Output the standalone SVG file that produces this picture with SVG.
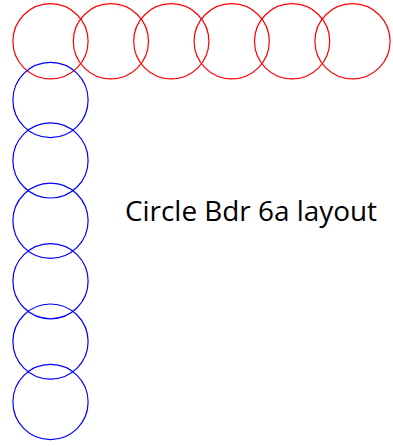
<svg xmlns="http://www.w3.org/2000/svg" width="393" height="447" viewBox="0 0 393 447">
<style>
.r{fill:none;stroke:#ff0000;stroke-width:1.2}
.b{fill:none;stroke:#0000ff;stroke-width:1.2}
.t{font-family:"Open Sans","Liberation Sans",Arial,sans-serif;font-size:28px;fill:#000}
</style>
<rect width="393" height="447" fill="#fff"/>
<g id="red">
<g id="r1"><circle class="r" cx="50.5" cy="41.3" r="37.6"/></g>
<g id="r2"><circle class="r" cx="110.9" cy="41.3" r="37.6"/></g>
<g id="r3"><circle class="r" cx="171.3" cy="41.3" r="37.6"/></g>
<g id="r4"><circle class="r" cx="231.7" cy="41.3" r="37.6"/></g>
<g id="r5"><circle class="r" cx="292.1" cy="41.3" r="37.6"/></g>
<g id="r6"><circle class="r" cx="352.5" cy="41.3" r="37.6"/></g>
</g>
<g id="blue">
<g id="b1"><circle class="b" cx="50.5" cy="100" r="37.6"/></g>
<g id="b2"><circle class="b" cx="50.5" cy="160.4" r="37.6"/></g>
<g id="b3"><circle class="b" cx="50.5" cy="220.8" r="37.6"/></g>
<g id="b4"><circle class="b" cx="50.5" cy="281.2" r="37.6"/></g>
<g id="b5"><circle class="b" cx="50.5" cy="341.6" r="37.6"/></g>
<g id="b6"><circle class="b" cx="50.5" cy="402" r="37.6"/></g>
</g>
<g id="label"><text class="t" x="125" y="221" textLength="252" lengthAdjust="spacingAndGlyphs">Circle Bdr 6a layout</text></g>
<g id="connectors"/>
</svg>
